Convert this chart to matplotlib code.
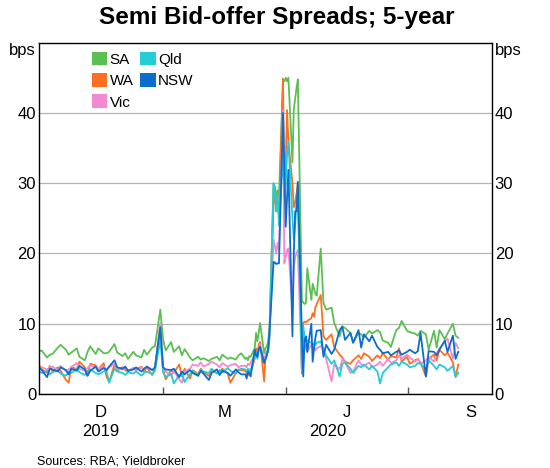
import pandas as pd
import matplotlib.pyplot as plt
import matplotlib.dates as mdates
from matplotlib.patches import Patch

plt.rcParams['font.family'] = ['Liberation Sans', 'DejaVu Sans']

# Bid-offer spreads (bps)
# segment 1: 1 Oct 2019 - 28 Feb 2020, every 2nd business day
# segment 2: 2 Mar - 24 Apr 2020, every business day
# segment 3: 27 Apr - 7 Aug 2020, every 2nd business day
sa_1 = [6.0, 6.2, 5.2, 5.6, 5.7, 6.6, 7.0, 6.3, 5.6, 5.9, 6.5, 5.3, 4.8, 6.0, 6.8, 5.7, 6.5, 5.8, 5.8, 6.0, 7.1, 5.9,
        5.4, 5.8, 5.0, 6.0, 5.5, 5.2, 6.3, 5.6, 6.6, 6.8, 12.0,
        7.8, 6.2, 7.4, 6.0, 6.8, 5.5, 6.4, 5.2, 4.8, 5.3, 4.9, 5.1, 4.7, 5.0, 5.3, 4.8, 5.6, 5.0, 5.2, 4.9, 5.5, 5.8]
sa_2 = [5.0, 5.2, 4.8, 5.4, 5.3, 6.5, 8.7, 7.5, 8.7, 10.1, 5.8, 6.5, 6.8, 7.5, 9.5, 30.0, 29.5, 28.0, 29.0, 28.0,
        44.7, 44.5, 45.0, 44.5, 45.0, 33.0, 40.5, 42.0, 43.5, 44.8, 13.4, 13.0, 12.8, 13.0, 17.9, 13.4, 15.7, 15.0, 14.3, 14.0]
sa_3 = [20.7, 13.0, 12.0, 12.3, 10.1, 8.2, 9.6, 9.4, 8.7, 7.3, 8.7, 8.5, 8.0, 9.0, 8.6, 9.1, 8.8, 7.6, 7.3, 6.7,
        9.1, 9.4, 10.4, 9.0, 8.8, 8.6, 8.3, 9.0, 8.5, 6.3, 9.0, 6.6, 9.1, 7.8, 8.6, 10.0, 8.3, 8.0]

wa_1 = [4.2, 3.5, 3.0, 4.0, 3.2, 3.8, 3.3, 2.0, 1.6, 3.9, 3.5, 4.6, 3.8, 2.6, 4.3, 4.1, 3.5, 4.4, 2.5, 1.7, 4.2, 3.3,
        3.8, 3.4, 3.2, 3.7, 3.5, 3.9, 3.1, 3.8, 2.7, 3.6, 9.8,
        3.6, 2.1, 3.4, 3.0, 4.2, 2.5, 3.6, 2.2, 3.4, 2.8, 3.6, 3.1, 2.6, 3.4, 3.0, 3.2, 3.6, 2.9, 1.6, 3.0, 3.5, 3.4]
wa_2 = [3.3, 3.0, 2.6, 3.5, 3.1, 5.0, 6.5, 5.5, 7.0, 7.4, 1.8, 5.5, 6.0, 6.2, 8.5, 27.0, 28.5, 26.0, 27.5, 25.2,
        44.9, 27.0, 33.0, 40.4, 36.0, 30.0, 26.6, 27.2, 28.5, 30.0, 2.9, 10.1, 10.3, 10.2, 10.4, 10.8, 11.5, 11.0, 12.3, 12.8]
wa_3 = [14.1, 8.2, 7.7, 8.5, 6.7, 5.6, 5.2, 4.6, 4.3, 4.8, 5.5, 5.0, 5.8, 5.3, 4.7, 5.5, 5.1, 5.8, 4.9, 5.4,
        5.2, 6.5, 4.6, 5.3, 4.3, 4.8, 5.0, 4.5, 2.5, 5.0, 5.6, 4.8, 6.3, 5.5, 5.9, 4.5, 2.4, 4.2]

vic_1 = [3.6, 3.8, 3.5, 3.8, 3.9, 3.4, 4.0, 3.3, 3.5, 3.8, 4.4, 3.6, 3.3, 3.7, 4.1, 3.8, 3.6, 3.9, 3.4, 3.8, 4.3, 3.6,
         3.5, 3.7, 3.4, 3.6, 3.3, 3.8, 3.5, 3.9, 3.4, 3.7, 10.1,
         3.7, 3.2, 2.6, 3.3, 2.1, 1.6, 3.2, 3.6, 4.2, 4.0, 4.5, 3.9, 4.3, 4.6, 4.2, 3.8, 4.4, 3.9, 4.1, 4.3, 3.8, 4.0]
vic_2 = [4.0, 3.8, 4.3, 4.1, 4.5, 5.5, 6.0, 5.2, 6.3, 7.0, 4.8, 5.5, 6.0, 6.5, 8.5, 22.0, 21.0, 20.0, 21.5, 20.5,
         40.4, 18.6, 19.5, 20.5, 20.7, 12.0, 18.0, 19.5, 20.0, 20.5, 3.5, 7.7, 7.0, 6.5, 6.0, 7.0, 6.5, 6.8, 6.2, 6.5]
vic_3 = [6.8, 6.5, 5.0, 1.8, 4.2, 3.5, 5.0, 4.5, 3.0, 3.2, 4.8, 4.2, 4.0, 4.5, 3.8, 4.2, 4.6, 4.0, 5.0, 4.4,
         4.8, 5.5, 5.0, 5.6, 5.2, 4.6, 5.0, 4.3, 4.8, 5.3, 4.6, 5.8, 6.5, 7.4, 7.9, 5.0, 7.3, 6.5]

qld_1 = [3.2, 3.0, 3.3, 2.8, 3.1, 3.4, 2.9, 2.6, 3.2, 3.0, 3.6, 3.1, 2.7, 3.3, 3.5, 3.0, 2.8, 3.2, 3.4, 1.6, 3.6, 3.2,
         3.0, 2.7, 3.1, 2.9, 3.2, 2.6, 3.0, 3.2, 2.8, 3.3, 7.7,
         3.1, 2.4, 2.9, 1.5, 2.7, 3.0, 1.7, 2.8, 3.3, 2.6, 3.5, 3.2, 3.0, 3.6, 2.9, 3.4, 3.1, 3.7, 3.3, 2.9, 3.4, 3.6]
qld_2 = [3.5, 3.2, 3.6, 3.0, 3.4, 5.5, 6.0, 5.0, 6.2, 6.5, 4.5, 5.0, 5.8, 6.0, 8.0, 30.0, 29.0, 26.0, 28.5, 24.0,
         34.0, 28.0, 30.0, 34.0, 35.9, 25.0, 22.0, 24.0, 27.0, 28.0, 3.2, 9.6, 8.2, 8.0, 7.5, 7.3, 7.0, 7.2, 7.0, 7.3]
qld_3 = [7.5, 6.0, 5.5, 4.3, 4.8, 2.5, 4.3, 4.5, 3.6, 3.0, 4.0, 3.8, 4.2, 3.5, 4.0, 3.2, 1.5, 3.0, 3.8, 4.2,
         4.5, 4.0, 4.6, 4.2, 3.8, 4.0, 4.4, 4.3, 3.5, 4.8, 4.0, 3.5, 4.2, 3.8, 3.3, 4.0, 2.5, 3.0]

nsw_1 = [3.8, 3.4, 2.4, 3.6, 3.5, 3.2, 3.8, 3.4, 2.8, 3.6, 3.3, 4.0, 3.5, 2.6, 3.3, 3.9, 3.2, 3.7, 3.4, 3.9, 4.8, 3.8,
         3.6, 3.9, 3.3, 3.5, 3.8, 3.2, 3.6, 3.9, 3.4, 3.8, 9.5,
         3.8, 3.5, 3.4, 3.6, 2.4, 3.2, 2.8, 3.4, 3.0, 2.6, 3.3, 2.9, 2.0, 3.0, 3.5, 2.7, 3.3, 3.0, 2.6, 3.5, 3.1, 2.8]
nsw_2 = [2.8, 2.2, 3.2, 2.9, 2.5, 6.3, 5.5, 5.3, 6.5, 6.7, 4.4, 5.0, 5.4, 6.5, 9.0, 18.8, 18.7, 18.5, 18.6, 18.6,
         40.0, 32.0, 23.8, 28.0, 31.9, 8.2, 20.0, 26.0, 26.0, 30.2, 8.4, 2.5, 7.8, 8.2, 6.0, 10.0, 4.6, 6.5, 8.0, 9.0]
nsw_3 = [9.1, 5.3, 7.0, 5.7, 6.3, 9.1, 9.6, 7.7, 8.7, 7.3, 9.1, 6.6, 8.5, 7.5, 8.3, 6.7, 6.3, 5.8, 6.0, 5.5,
         6.0, 6.2, 5.6, 6.0, 6.3, 5.8, 6.1, 8.7, 2.5, 6.1, 6.0, 5.5, 6.3, 7.6, 6.0, 8.3, 5.0, 6.0]

states = ['SA', 'WA', 'Vic', 'Qld', 'NSW']
colors = ['#5cbf51', '#ff6f1e', '#f28ad2', '#22cdd4', '#0a6ecf']
segments = [(sa_1, sa_2, sa_3), (wa_1, wa_2, wa_3), (vic_1, vic_2, vic_3),
            (qld_1, qld_2, qld_3), (nsw_1, nsw_2, nsw_3)]


def series(seg1, seg2, seg3):
    d1 = pd.bdate_range('2019-10-01', periods=len(seg1), freq='2B')
    d2 = pd.bdate_range('2020-03-02', periods=len(seg2), freq='B')
    d3 = pd.bdate_range('2020-04-27', periods=len(seg3), freq='2B')
    return d1.append(d2).append(d3), seg1 + seg2 + seg3


fig = plt.figure(figsize=(5.5, 4.68), dpi=100)
ax = fig.add_axes([0.0709, 0.1581, 0.8236, 0.7506])

for name, col, segs in zip(states, colors, segments):
    x, y = series(*segs)
    ax.plot(x, y, color=col, lw=1.3)

x0, x1 = pd.Timestamp('2019-10-01'), pd.Timestamp('2020-09-01')
ax.set_xlim(x0, x1)
ax.set_ylim(0, 50)
ax.set_yticks([0, 10, 20, 30, 40])
ax.grid(axis='y', color='#b5b5b5', lw=0.9)
ax.set_axisbelow(True)
ax.tick_params(axis='y', length=0, labelsize=12, labelright=True, pad=2)
for s in ax.spines.values():
    s.set_linewidth(1.0)

# quarter boundaries as ticks, month letters at quarter middles
qstarts = pd.date_range('2019-10-01', '2020-10-01', freq='QS')
ax.set_xticks(qstarts[1:-1])
ax.set_xticklabels([])
ax.tick_params(axis='x', which='major', direction='in', length=5, width=1, color='#555555')
mids = [qstarts[i] + (qstarts[i + 1] - qstarts[i]) / 2 for i in range(len(qstarts) - 1)]
ax.set_xticks(mids, minor=True)
ax.set_xticklabels(['D', 'M', 'J', 'S'], minor=True)
ax.tick_params(axis='x', which='minor', length=0, labelsize=12, pad=8)

for yr in [2019, 2020]:
    a = max(pd.Timestamp(f'{yr}-01-01'), x0)
    b = min(pd.Timestamp(f'{yr + 1}-01-01'), x1)
    ax.text(a + (b - a) / 2, -0.108, str(yr), transform=ax.get_xaxis_transform(),
            ha='center', va='center', fontsize=12)

ax.text(-0.007, 0.979, 'bps', transform=ax.transAxes, ha='right', va='center', fontsize=12)
ax.text(1.007, 0.979, 'bps', transform=ax.transAxes, ha='left', va='center', fontsize=12)

handles = [Patch(facecolor=c, edgecolor='none') for c in colors]
ax.legend(handles, states, loc='upper left', bbox_to_anchor=(0.117, 0.975), ncol=2,
          frameon=False, fontsize=11, handlelength=1.0, handleheight=1.0,
          handletextpad=0.15, columnspacing=0.45, labelspacing=0.42,
          borderaxespad=0, borderpad=0)

fig.text(0.503, 0.962, 'Semi Bid-offer Spreads; 5-year', ha='center', va='center',
         fontsize=17.5, fontweight='bold')
fig.text(0.067, 0.0135, 'Sources: RBA; Yieldbroker', ha='left', va='center', fontsize=9)

fig.savefig('out.png', dpi=100)
